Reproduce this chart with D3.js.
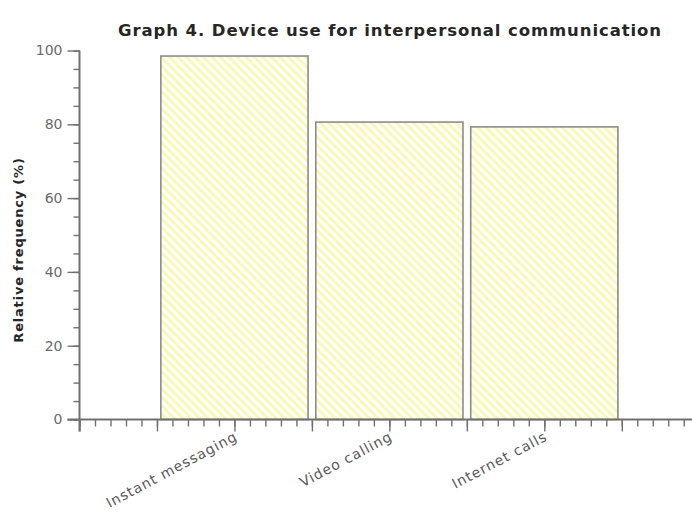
<!DOCTYPE html>
<html><head><meta charset="utf-8">
<script src="https://cdn.jsdelivr.net/npm/d3@7"></script>
<style>body{margin:0;background:#fff}</style>
</head><body>
<svg id="c" width="692" height="516"></svg>
<script>
const categories = ["Instant messaging", "Video calling", "Internet calls"];
const positions = [2, 4, 6];
const values = [98.5, 80.6, 79.3];
const yTicks = [0, 20, 40, 60, 80, 100];
const title = "Graph 4. Device use for interpersonal communication";
const yLabel = "Relative frequency (%)";

const svg = d3.select("#c");
const font = "'DejaVu Sans', Verdana, sans-serif";
const axisColor = "#707070";

const x = d3.scaleLinear().domain([0, 7.9]).range([79.5, 691.5]);
const y = d3.scaleLinear().domain([0, 100]).range([419.5, 50.5]);

const defs = svg.append("defs");
const pat = defs.append("pattern").attr("id", "hatch").attr("patternUnits", "userSpaceOnUse")
  .attr("width", 6).attr("height", 6).attr("patternTransform", "rotate(-45)");
pat.append("rect").attr("width", 6).attr("height", 6).attr("fill", "#ffffff");
pat.append("rect").attr("x", 0).attr("width", 3).attr("height", 6).attr("fill", "#faf8b4");

// bars
const bw = 1.9;
svg.append("g").selectAll("rect").data(values).join("rect")
  .attr("x", (d, i) => x(positions[i] - bw / 2))
  .attr("width", (d, i) => x(positions[i] + bw / 2) - x(positions[i] - bw / 2))
  .attr("y", d => y(d))
  .attr("height", d => y(0) - y(d))
  .attr("fill", "url(#hatch)")
  .attr("stroke", "#8c8c8c").attr("stroke-width", 1.6);

// y axis
const ya = svg.append("g").attr("transform", `translate(${x(0)},0)`);
ya.call(d3.axisLeft(y).tickValues(d3.range(0, 101, 5)).tickSize(6).tickFormat(""));
ya.selectAll(".tick line").attr("stroke", axisColor).attr("stroke-width", 1.4);
ya.select(".domain").remove();
ya.call(g => g.append("g").call(d3.axisLeft(y).tickValues(yTicks).tickSize(12).tickPadding(5).tickFormat(d3.format("d")))
  .call(gg => gg.select(".domain").remove())
  .call(gg => gg.selectAll(".tick line").attr("stroke", axisColor).attr("stroke-width", 1.4))
  .call(gg => gg.selectAll(".tick text").attr("fill", "#6a6a6a").attr("font-size", 14).attr("font-family", font)));
svg.append("line").attr("x1", x(0)).attr("x2", x(0)).attr("y1", y(100)).attr("y2", y(0) + 12)
  .attr("stroke", axisColor).attr("stroke-width", 2);

// x axis
const xa = svg.append("g").attr("transform", `translate(0,${y(0)})`);
xa.call(d3.axisBottom(x).tickValues(d3.range(0, 7.95, 0.2).map(v => +v.toFixed(1))).tickSize(7).tickFormat(""));
xa.select(".domain").remove();
xa.selectAll(".tick line").attr("stroke", axisColor).attr("stroke-width", 1.4);
xa.append("g").call(d3.axisBottom(x).tickValues(d3.range(0, 8, 1)).tickSize(12).tickFormat(""))
  .call(g => g.select(".domain").remove())
  .call(g => g.selectAll(".tick line").attr("stroke", axisColor).attr("stroke-width", 1.4));
svg.append("line").attr("x1", x(0) - 12).attr("x2", 692).attr("y1", y(0)).attr("y2", y(0))
  .attr("stroke", axisColor).attr("stroke-width", 2);

// x labels
svg.append("g").selectAll("text").data(categories).join("text")
  .attr("transform", (d, i) => `translate(${x(positions[i]) + 4},${y(0) + 20}) rotate(-28)`)
  .attr("text-anchor", "end").attr("font-family", font).attr("font-size", 14)
  .attr("letter-spacing", 1).attr("fill", "#5a5a5a").text(d => d);

// title
svg.append("text").attr("x", 390).attr("y", 36).attr("text-anchor", "middle")
  .attr("font-family", font).attr("font-weight", "bold").attr("font-size", 16.5)
  .attr("letter-spacing", 0.9).attr("fill", "#262626").text(title);

// y label
svg.append("text").attr("transform", `translate(23,250) rotate(-90)`).attr("text-anchor", "middle")
  .attr("font-family", font).attr("font-weight", "bold").attr("font-size", 13)
  .attr("letter-spacing", 0.8).attr("fill", "#262626").text(yLabel);
</script>
</body></html>
